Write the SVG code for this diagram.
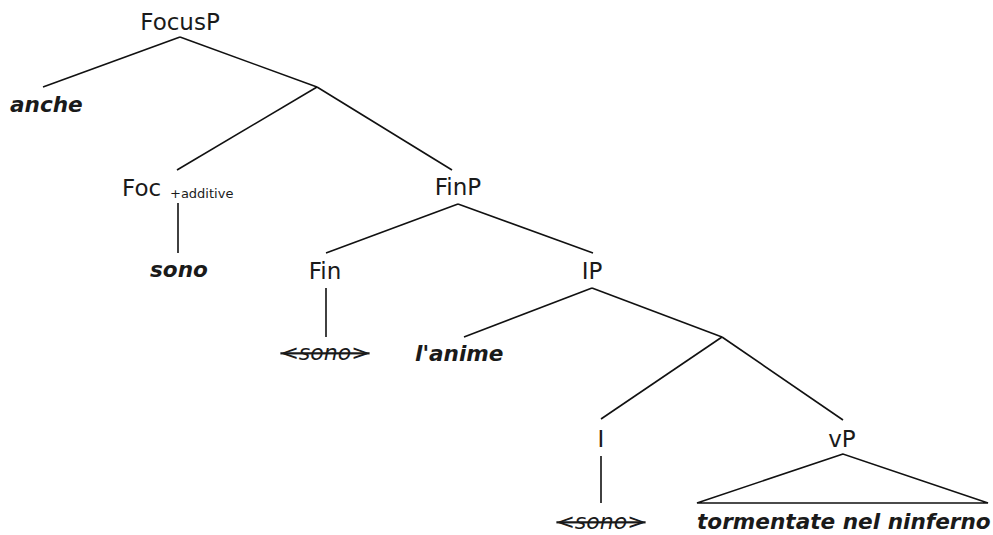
<svg xmlns="http://www.w3.org/2000/svg" width="993" height="535" viewBox="0 0 993 535">
<style>
text{font-family:"DejaVu Sans","Liberation Sans",sans-serif;fill:#1a1a1a}
.lab{font-size:23px;text-anchor:middle}
.leaf{font-size:21.6px;font-weight:bold;font-style:italic}
.trace{font-size:22px;font-style:italic;text-anchor:middle;text-decoration:line-through}
.sub{font-size:13px}
.edges line,.edges path{stroke:#111;stroke-width:1.6;fill:none}
</style>
<rect width="993" height="535" fill="#fff"/>
<g class="edges" id="connectors">
<line x1="180" y1="37" x2="43" y2="87"/>
<line x1="180" y1="37" x2="317" y2="87"/>
<line x1="317" y1="87" x2="177" y2="170"/>
<line x1="317" y1="87" x2="452" y2="170"/>
<line x1="178" y1="203" x2="178" y2="253"/>
<line x1="458" y1="204" x2="326" y2="253"/>
<line x1="458" y1="204" x2="593" y2="253"/>
<line x1="326" y1="288" x2="326" y2="337"/>
<line x1="592" y1="288" x2="464" y2="337"/>
<line x1="592" y1="288" x2="722" y2="337"/>
<line x1="722" y1="337" x2="601" y2="419"/>
<line x1="722" y1="337" x2="843" y2="420"/>
<line x1="601" y1="456" x2="601" y2="503"/>
<path d="M843 454 L697 503 L988 503 Z"/>
</g>
<g id="n-FocusP"><text class="lab" x="180" y="30">FocusP</text></g>
<g id="n-anche"><text class="leaf" x="10" y="112">anche</text></g>
<g id="n-Foc"><text x="122" y="196" style="font-size:23px">Foc</text><text class="sub" x="170" y="198">+additive</text></g>
<g id="n-sono1"><text class="leaf" x="150" y="277">sono</text></g>
<g id="n-FinP"><text class="lab" x="458" y="195">FinP</text></g>
<g id="n-Fin"><text class="lab" x="325" y="279">Fin</text></g>
<g id="n-trace1"><text class="trace" x="325" y="360">&lt;sono&gt;</text></g>
<g id="n-IP"><text class="lab" x="592" y="279">IP</text></g>
<g id="n-lanime"><text class="leaf" x="415" y="361">l'anime</text></g>
<g id="n-I"><text class="lab" x="601" y="447">I</text></g>
<g id="n-vP"><text class="lab" x="842" y="447">vP</text></g>
<g id="n-trace2"><text class="trace" x="601" y="529">&lt;sono&gt;</text></g>
<g id="n-vPleaf"><text class="leaf" x="697" y="529">tormentate nel ninferno</text></g>
</svg>
